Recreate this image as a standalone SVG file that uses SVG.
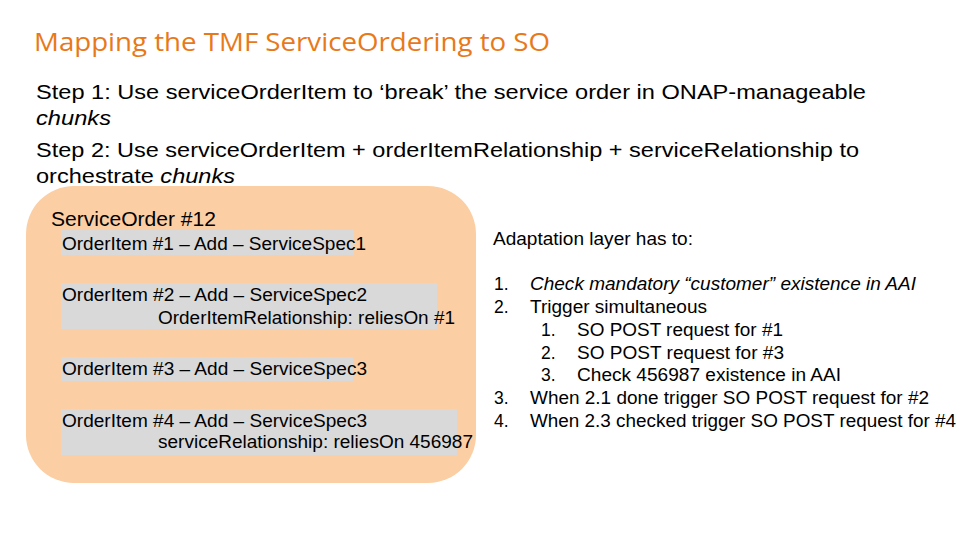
<svg xmlns="http://www.w3.org/2000/svg" width="960" height="540" viewBox="0 0 960 540">
<style>
.t{font-family:"Liberation Sans",Arial,sans-serif;fill:#000}
.b{font-size:20.5px}
.s{font-size:17.5px}
.r{font-size:17.5px}
.g{fill:#D9D9D9}
</style>
<rect width="960" height="540" fill="#fff"/>
<text x="34" y="51" font-family="Open Sans,sans-serif" font-size="25" fill="#E8791A" textLength="516" lengthAdjust="spacingAndGlyphs">Mapping the TMF ServiceOrdering to SO</text>
<g class="t b" lengthAdjust="spacingAndGlyphs">
<text x="36" y="99" textLength="830" lengthAdjust="spacingAndGlyphs">Step 1: Use serviceOrderItem to ‘break’ the service order in ONAP-manageable</text>
<text x="36" y="125" font-style="italic" textLength="75" lengthAdjust="spacingAndGlyphs">chunks</text>
<text x="36" y="157" textLength="823" lengthAdjust="spacingAndGlyphs">Step 2: Use serviceOrderItem + orderItemRelationship + serviceRelationship to</text>
<text x="36" y="183" textLength="199" lengthAdjust="spacingAndGlyphs">orchestrate <tspan font-style="italic">chunks</tspan></text>
</g>
<g id="serviceOrder">
<rect x="26" y="186" width="450" height="297" rx="48" fill="#FBCEA4"/>
<text class="t b" x="51" y="226" textLength="165" lengthAdjust="spacingAndGlyphs">ServiceOrder #12</text>
</g>
<g id="item1"><rect class="g" x="61" y="230" width="293" height="25"/><text class="t s" x="62" y="250" textLength="304" lengthAdjust="spacingAndGlyphs">OrderItem #1 – Add – ServiceSpec1</text></g>
<g id="item2"><rect class="g" x="61" y="283" width="376" height="46"/><text class="t s" x="62" y="301" textLength="305" lengthAdjust="spacingAndGlyphs">OrderItem #2 – Add – ServiceSpec2</text><text class="t s" x="158" y="324" textLength="297" lengthAdjust="spacingAndGlyphs">OrderItemRelationship: reliesOn #1</text></g>
<g id="item3"><rect class="g" x="61" y="357" width="292" height="24"/><text class="t s" x="62" y="375" textLength="305" lengthAdjust="spacingAndGlyphs">OrderItem #3 – Add – ServiceSpec3</text></g>
<g id="item4"><rect class="g" x="61" y="409" width="396" height="46"/><text class="t s" x="62" y="427" textLength="305" lengthAdjust="spacingAndGlyphs">OrderItem #4 – Add – ServiceSpec3</text><text class="t s" x="158" y="448" textLength="315" lengthAdjust="spacingAndGlyphs">serviceRelationship: reliesOn 456987</text></g>
<g id="connectors"/>
<g class="t r">
<text x="493" y="245" textLength="200" lengthAdjust="spacingAndGlyphs">Adaptation layer has to:</text>
<text x="494" y="290">1.</text><text x="530" y="290" font-style="italic" textLength="386" lengthAdjust="spacingAndGlyphs">Check mandatory “customer” existence in AAI</text>
<text x="494" y="313">2.</text><text x="530" y="313" textLength="177" lengthAdjust="spacingAndGlyphs">Trigger simultaneous</text>
<text x="541" y="336">1.</text><text x="577" y="336" textLength="206" lengthAdjust="spacingAndGlyphs">SO POST request for #1</text>
<text x="541" y="359">2.</text><text x="577" y="359" textLength="207" lengthAdjust="spacingAndGlyphs">SO POST request for #3</text>
<text x="541" y="381">3.</text><text x="577" y="381" textLength="264" lengthAdjust="spacingAndGlyphs">Check 456987 existence in AAI</text>
<text x="494" y="404">3.</text><text x="530" y="404" textLength="399" lengthAdjust="spacingAndGlyphs">When 2.1 done trigger SO POST request for #2</text>
<text x="494" y="427">4.</text><text x="530" y="427" textLength="426" lengthAdjust="spacingAndGlyphs">When 2.3 checked trigger SO POST request for #4</text>
</g>
</svg>
